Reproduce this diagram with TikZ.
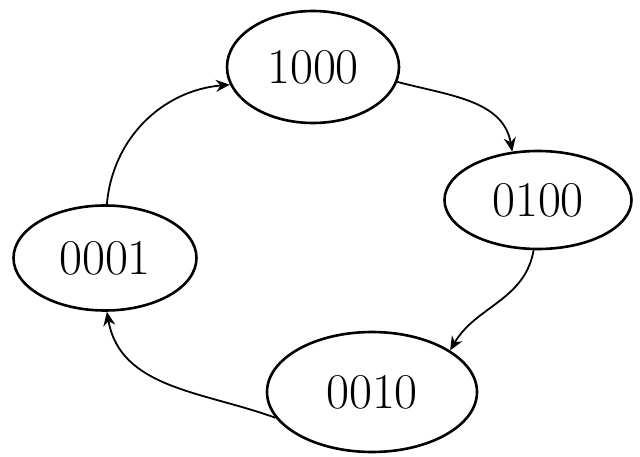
\documentclass[tikz,border=0pt]{standalone}
\usetikzlibrary{shapes.geometric,arrows.meta}
\begin{document}
\begin{tikzpicture}[x=1pt,y=-1pt,
  state/.style={ellipse,draw,line width=2.6pt,inner sep=0pt,font=\fontsize{50}{56}\selectfont},
  conn/.style={line width=1.8pt,-{Stealth[length=14pt,width=12pt]}}]
\useasboundingbox (0,0) rectangle (640,457);
\node[state,minimum width=172,minimum height=112] (s1000) at (313,67) {1000};
\node[state,minimum width=187,minimum height=98] (s0100) at (538,200) {0100};
\node[state,minimum width=210,minimum height=120] (s0010) at (372,392) {0010};
\node[state,minimum width=183,minimum height=105] (s0001) at (105,258) {0001};
\draw[conn] (s1000.-10) to[out=-15,in=100] (s0100.118);
\draw[conn] (s0100.-95) to[out=-100,in=60] (s0010.28);
\draw[conn] (s0010.195) to[out=160,in=-80] (s0001.-88);
\draw[conn] (s0001.88) to[out=85,in=185] (s1000.192);
\end{tikzpicture}
\end{document}
